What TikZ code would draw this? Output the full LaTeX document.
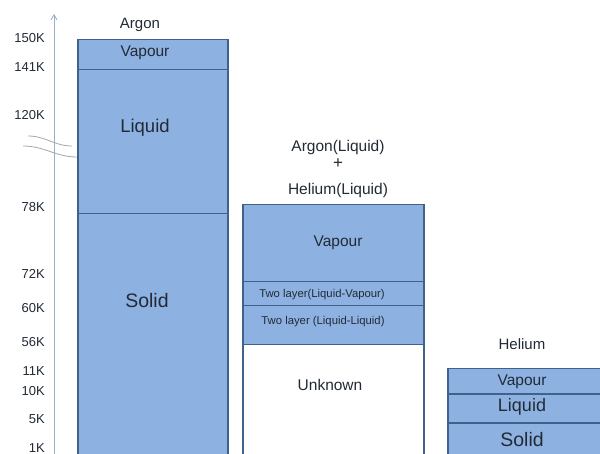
\documentclass[tikz,border=0pt]{standalone}
\usepackage{fontspec}
\setmainfont{Liberation Sans}
\usetikzlibrary{arrows.meta}
\definecolor{segfill}{HTML}{8DB2E2}
\definecolor{segline}{HTML}{42618A}
\definecolor{axiscol}{HTML}{9AB0C8}
\definecolor{txt}{HTML}{222A35}
\tikzset{
  seg/.style={draw=segline, line width=1.5pt, fill=segfill, rectangle, inner sep=0pt, anchor=north west},
  wseg/.style={seg, fill=white},
  tick/.style={anchor=east, font=\fontsize{13}{15}\selectfont, text=txt, inner sep=0pt},
  ttl/.style={font=\fontsize{15}{17}\selectfont, text=txt, inner sep=0pt},
  lbl/.style={font=\fontsize{15.5}{17}\selectfont, text=txt, inner sep=0pt},
  big/.style={font=\fontsize{18.5}{20}\selectfont, text=txt, inner sep=0pt},
  sml/.style={font=\fontsize{11.3}{13}\selectfont, text=txt, inner sep=0pt},
  brk/.style={draw=gray!70, line width=0.8pt},
}
\begin{document}
\begin{tikzpicture}[x=1pt,y=-1pt]
\clip (0,0) rectangle (600,454);
\fill[white] (0,0) rectangle (600,454);
% axis
\coordinate (axb) at (54,460);
\coordinate (axt) at (54,14);
\draw[axiscol, line width=0.9pt, -{Straight Barb[length=5pt,width=6pt]}] (axb) -- (axt);
% break marks
\coordinate (b1s) at (28,136);
\coordinate (b1e) at (72,146);
\coordinate (b2s) at (23,146);
\coordinate (b2e) at (77,157);
\draw[brk] (b1s) to[out=0,in=180] (b1e);
\draw[brk] (b2s) to[out=0,in=180] (b2e);
% tick labels
\node[tick] (t150) at (45,38) {150K};
\node[tick] (t141) at (45,67) {141K};
\node[tick] (t120) at (45,115) {120K};
\node[tick] (t78) at (45,207) {78K};
\node[tick] (t72) at (45,274) {72K};
\node[tick] (t60) at (45,308) {60K};
\node[tick] (t56) at (45,342) {56K};
\node[tick] (t11) at (45,371) {11K};
\node[tick] (t10) at (45,391) {10K};
\node[tick] (t5) at (45,419) {5K};
\node[tick] (t1) at (45,448) {1K};
% Argon column
\node[ttl] (argon) at (140,25) {Argon};
\node[seg, minimum width=150pt, minimum height=30pt] (arV) at (77,39) {};
\node[seg, minimum width=150pt, minimum height=144pt] (arL) at (77,69) {};
\node[seg, minimum width=150pt, minimum height=260pt] (arS) at (77,213) {};
\node[lbl] (arVt) at (145,53) {Vapour};
\node[big] (arLt) at (145,128) {Liquid};
\node[big, font=\fontsize{19.5}{21}\selectfont] (arSt) at (147,301) {Solid};
% mixture column
\node[ttl, font=\fontsize{15.5}{17}\selectfont] (mixA) at (338,147) {Argon(Liquid)};
\node[ttl, font=\fontsize{17}{19}\selectfont] (mixP) at (338,164) {+};
\node[ttl, font=\fontsize{15.5}{17}\selectfont] (mixH) at (338,190) {Helium(Liquid)};
\node[seg, minimum width=181pt, minimum height=77pt] (mV) at (242,204) {};
\node[seg, minimum width=181pt, minimum height=24pt] (mLV) at (242,281) {};
\node[seg, minimum width=181pt, minimum height=39pt] (mLL) at (242,305) {};
\node[wseg, minimum width=181pt, minimum height=130pt] (mU) at (242,344) {};
\node[lbl] (mVt) at (338,243) {Vapour};
\node[sml] (mLVt) at (322,295) {Two layer(Liquid-Vapour)};
\node[sml] (mLLt) at (323,322) {Two layer (Liquid-Liquid)};
\node[lbl] (mUt) at (330,385) {Unknown};
% Helium column
\node[ttl] (helium) at (522,344) {Helium};
\node[seg, minimum width=170pt, minimum height=25pt] (hV) at (447,368) {};
\node[seg, minimum width=170pt, minimum height=29pt] (hL) at (447,393) {};
\node[seg, minimum width=170pt, minimum height=60pt] (hS) at (447,422) {};
\node[lbl] (hVt) at (522,382) {Vapour};
\node[big, font=\fontsize{18}{20}\selectfont] (hLt) at (522,407) {Liquid};
\node[big, font=\fontsize{19.5}{21}\selectfont] (hSt) at (522,440) {Solid};
\end{tikzpicture}
\end{document}
